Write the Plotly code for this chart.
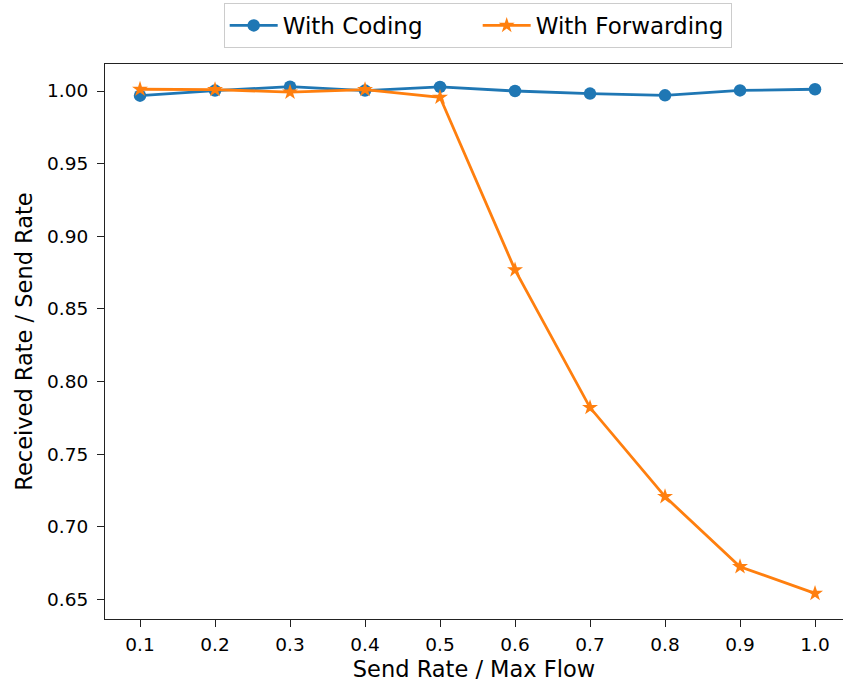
import plotly.graph_objects as go

send_rate = [0.1, 0.2, 0.3, 0.4, 0.5, 0.6, 0.7, 0.8, 0.9, 1.0]
with_coding = [0.9968, 1.0003, 1.0030, 1.0003, 1.0028, 1.0000, 0.9982, 0.9970, 1.0004, 1.0012]
with_forwarding = [1.0012, 1.0010, 0.9992, 1.0010, 0.9957, 0.8768, 0.7820, 0.7207, 0.6724, 0.6540]
x_ticks = [0.1, 0.2, 0.3, 0.4, 0.5, 0.6, 0.7, 0.8, 0.9, 1.0]
x_tick_text = ["0.1", "0.2", "0.3", "0.4", "0.5", "0.6", "0.7", "0.8", "0.9", "1.0"]
y_ticks = [0.65, 0.70, 0.75, 0.80, 0.85, 0.90, 0.95, 1.00]
y_tick_text = ["0.65", "0.70", "0.75", "0.80", "0.85", "0.90", "0.95", "1.00"]

FONT = "DejaVu Sans"

fig = go.Figure()
fig.add_trace(go.Scatter(
    x=send_rate, y=with_coding, name="With Coding", mode="lines+markers",
    line=dict(color="#1f77b4", width=2.8),
    marker=dict(symbol="circle", size=12.5, color="#1f77b4"),
))
fig.add_trace(go.Scatter(
    x=send_rate, y=with_forwarding, name="With Forwarding", mode="lines+markers",
    line=dict(color="#ff7f0e", width=2.8),
    marker=dict(symbol="star", size=12, color="#ff7f0e"),
))

fig.update_layout(
    width=843, height=683,
    margin=dict(l=105, r=0, t=64, b=64, autoexpand=False),
    paper_bgcolor="white", plot_bgcolor="white",
    font=dict(family=FONT, color="#000000", size=19),
    showlegend=True,
    legend=dict(
        orientation="h", x=0.505, xanchor="center", y=1.11, yanchor="top",
        font=dict(family=FONT, size=23, color="#000000"),
        bordercolor="#cccccc", borderwidth=1, bgcolor="rgba(255,255,255,0.8)",
        itemwidth=48, entrywidth=190, entrywidthmode="pixels",
    ),
    xaxis=dict(
        range=[0.0533, 1.0373], tickvals=x_ticks, ticktext=x_tick_text,
        showgrid=False, zeroline=False,
        showline=True, linecolor="#222222", linewidth=1.2, mirror=True,
        ticks="outside", ticklen=7, tickwidth=1.2, tickcolor="#222222",
        tickfont=dict(family=FONT, size=18.5, color="#000000"),
        title=dict(text="Send Rate / Max Flow", font=dict(family=FONT, size=22.5, color="#000000"), standoff=6),
        ticklabelstandoff=2,
    ),
    yaxis=dict(
        range=[0.6364, 1.0186], tickvals=y_ticks, ticktext=y_tick_text,
        showgrid=False, zeroline=False,
        showline=True, linecolor="#222222", linewidth=1.2, mirror=False,
        ticks="outside", ticklen=7, tickwidth=1.2, tickcolor="#222222",
        tickfont=dict(family=FONT, size=18.5, color="#000000"),
        title=dict(text="Received Rate / Send Rate", font=dict(family=FONT, size=22.5, color="#000000"), standoff=8),
        ticklabelstandoff=5,
    ),
)

fig.write_html("out.html")
